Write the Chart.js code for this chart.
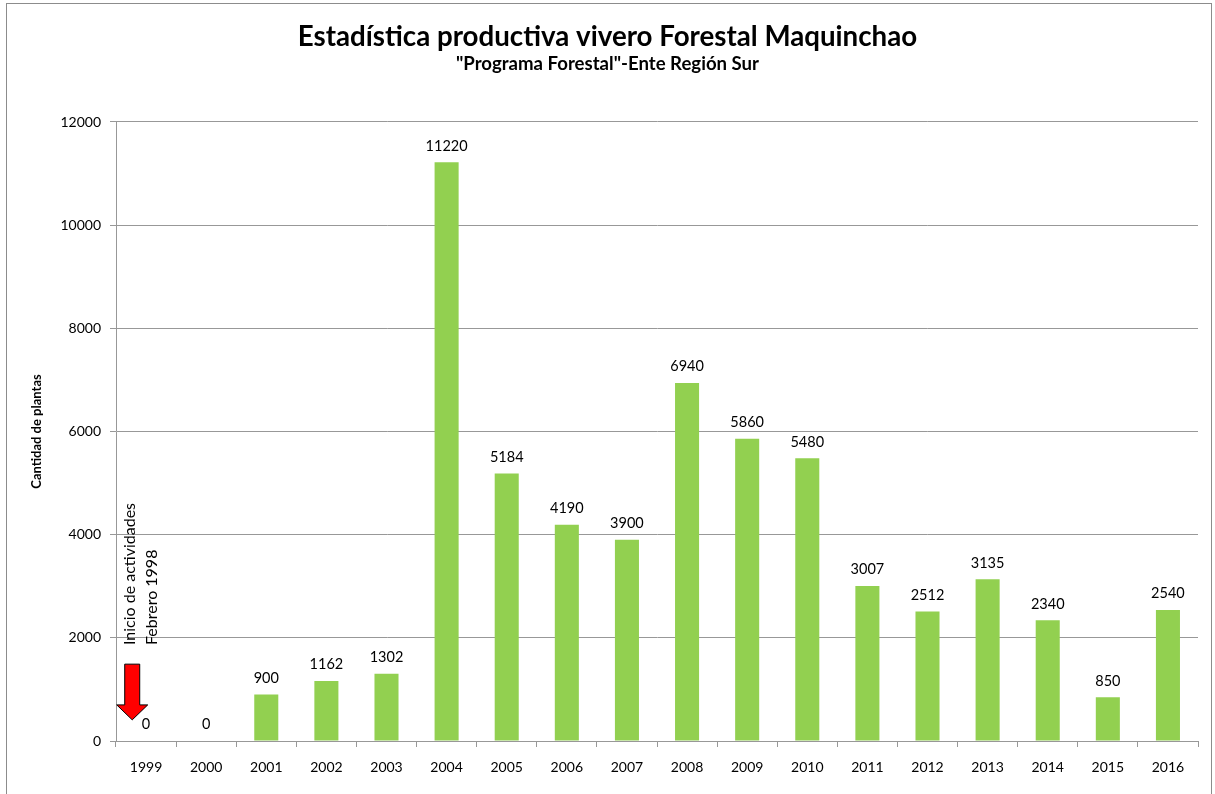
<!DOCTYPE html>
<html>
<head>
<meta charset="utf-8">
<style>
html,body{margin:0;padding:0;background:#fff;}
canvas{display:block;}
</style>
<script src="https://cdn.jsdelivr.net/npm/chart.js@4/dist/chart.umd.min.js"></script>
</head>
<body>
<canvas id="c" width="1215" height="794"></canvas>
<script>
const years = ['1999','2000','2001','2002','2003','2004','2005','2006','2007','2008','2009','2010','2011','2012','2013','2014','2015','2016'];
const plantas = [0,0,900,1162,1302,11220,5184,4190,3900,6940,5860,5480,3007,2512,3135,2340,850,2540];
const yTicks = [0,2000,4000,6000,8000,10000,12000];
const titleText = 'Estadística productiva vivero Forestal Maquinchao';
const subtitleText = '"Programa Forestal"-Ente Región Sur';
const yAxisTitle = 'Cantidad de plantas';
const noteLines = ['Inicio de actividades','Febrero 1998'];
// arrow annotation, in data units: [top, head start, tip]
const arrowValues = [1490, 700, 410];

const FONT = 'Lato, "Open Sans", sans-serif';

const bgPlugin = {
  id: 'bg',
  beforeDraw(chart) {
    const ctx = chart.ctx;
    ctx.save();
    ctx.fillStyle = '#fff';
    ctx.fillRect(0, 0, chart.width, chart.height);
    ctx.strokeStyle = '#8c8c8c';
    ctx.lineWidth = 1;
    ctx.strokeRect(6.5, 3.5, chart.width - 10, chart.height + 20);
    ctx.restore();
  }
};

const labelPlugin = {
  id: 'valueLabels',
  afterDatasetsDraw(chart) {
    const ctx = chart.ctx;
    const meta = chart.getDatasetMeta(0);
    ctx.save();
    ctx.font = '14.5px ' + FONT;
    ctx.fillStyle = '#000';
    ctx.textAlign = 'center';
    ctx.textBaseline = 'bottom';
    meta.data.forEach((bar, i) => {
      ctx.fillText(String(plantas[i]), bar.x, bar.y - 9);
    });
    ctx.restore();
  }
};

const notePlugin = {
  id: 'note',
  afterDatasetsDraw(chart) {
    const ctx = chart.ctx;
    const xs = chart.scales.x, ys = chart.scales.y;
    const cw = xs.width / years.length;
    const cx = xs.getPixelForValue(0) - cw * 0.23;
    const yTop = ys.getPixelForValue(arrowValues[0]);
    const yHead = ys.getPixelForValue(arrowValues[1]);
    const yTip = ys.getPixelForValue(arrowValues[2]);
    const sw = 7.5, hw = 15.5;
    ctx.save();
    ctx.beginPath();
    ctx.moveTo(cx - sw, yTop);
    ctx.lineTo(cx + sw, yTop);
    ctx.lineTo(cx + sw, yHead);
    ctx.lineTo(cx + hw, yHead);
    ctx.lineTo(cx, yTip);
    ctx.lineTo(cx - hw, yHead);
    ctx.lineTo(cx - sw, yHead);
    ctx.closePath();
    ctx.fillStyle = '#ff0000';
    ctx.fill();
    ctx.strokeStyle = '#000';
    ctx.lineWidth = 1;
    ctx.stroke();
    // rotated note text
    ctx.font = '16px ' + FONT;
    ctx.fillStyle = '#000';
    ctx.textAlign = 'left';
    ctx.textBaseline = 'middle';
    const baseY = ys.getPixelForValue(1860);
    noteLines.forEach((t, i) => {
      ctx.save();
      ctx.translate(cx - 2 + i * 22, baseY);
      ctx.rotate(-Math.PI / 2);
      ctx.fillText(t, 0, 0);
      ctx.restore();
    });
    ctx.restore();
  }
};

new Chart(document.getElementById('c'), {
  type: 'bar',
  data: {
    labels: years,
    datasets: [{
      data: plantas,
      backgroundColor: '#92d050',
      borderWidth: 0,
      categoryPercentage: 1.0,
      barPercentage: 0.4
    }]
  },
  plugins: [bgPlugin, labelPlugin, notePlugin],
  options: {
    responsive: false,
    animation: false,
    devicePixelRatio: 1,
    layout: { padding: { left: 17, right: 17, top: 0, bottom: 0 } },
    plugins: {
      legend: { display: false },
      tooltip: { enabled: false },
      title: {
        display: true,
        text: titleText,
        color: '#000',
        font: { family: FONT, size: 27.7, weight: 'bold', lineHeight: 1.2 },
        padding: { top: 20, bottom: 0 }
      },
      subtitle: {
        display: true,
        text: subtitleText,
        color: '#000',
        font: { family: FONT, size: 18.6, weight: 'bold', lineHeight: 1.2 },
        padding: { top: 0, bottom: 46.44 }
      }
    },
    scales: {
      x: {
        type: 'category',
        offset: true,
        grid: { offset: true, drawOnChartArea: false, drawTicks: true, tickLength: 6, color: '#989898' },
        border: { color: '#989898', width: 1 },
        ticks: { color: '#000', font: { family: FONT, size: 14 }, padding: 12, maxRotation: 0, autoSkip: false },
        afterFit(s) { s.height = 53; }
      },
      y: {
        min: 0,
        max: 12000,
        afterBuildTicks(s) { s.ticks = yTicks.map(v => ({ value: v })); },
        grid: { color: '#989898', tickLength: 6, drawTicks: true },
        border: { color: '#989898', width: 1 },
        ticks: { color: '#000', font: { family: FONT, size: 14 }, padding: 9, callback: v => String(v) },
        title: {
          display: true,
          text: yAxisTitle,
          color: '#000',
          font: { family: FONT, size: 13, weight: 'bold' },
          padding: { top: 12, bottom: 0 }
        },
        afterFit(s) { s.width = 99; }
      }
    }
  }
});
</script>
</body>
</html>
